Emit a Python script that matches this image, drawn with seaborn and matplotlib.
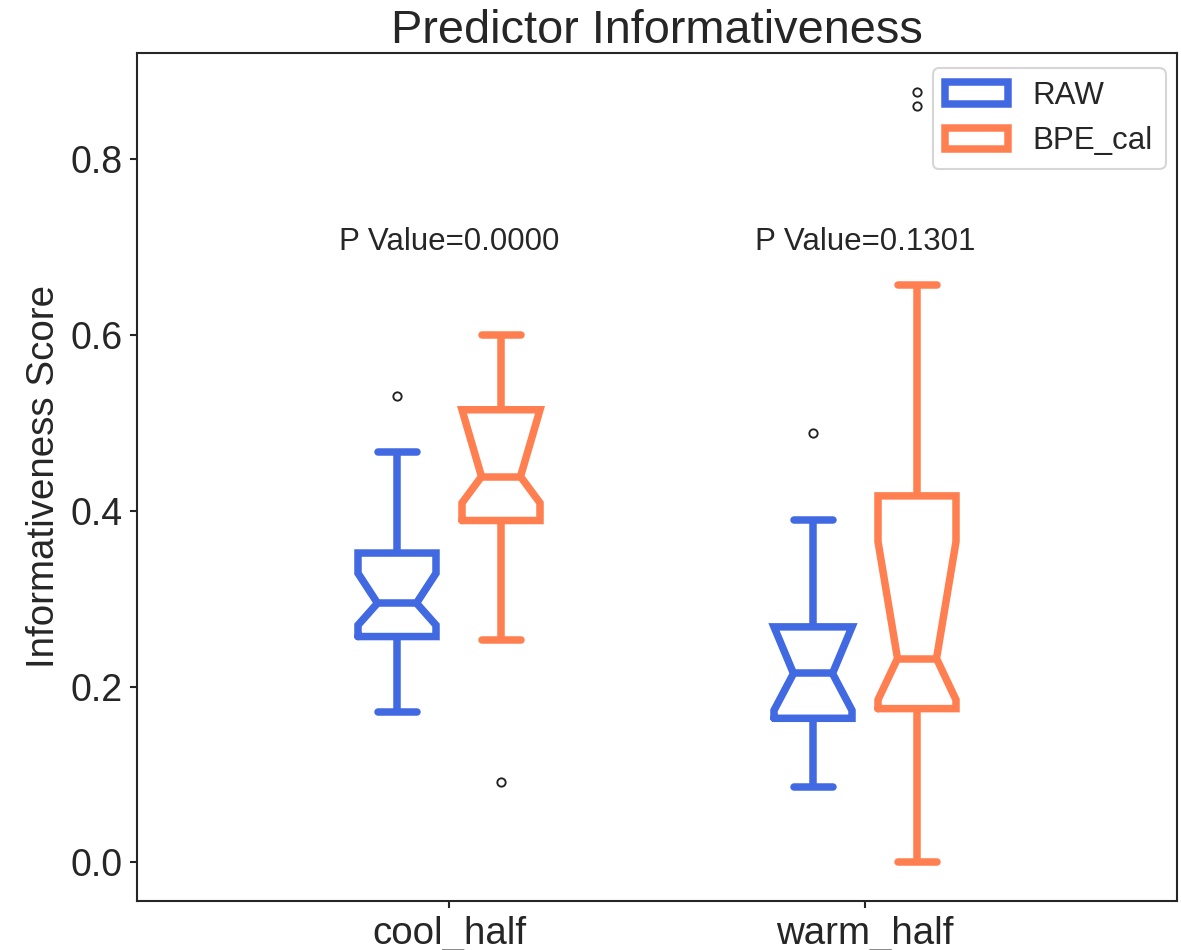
import numpy as np
import pandas as pd
import matplotlib
matplotlib.use("Agg")
import matplotlib.pyplot as plt
import seaborn as sns

# Categories and groups
seasons = ["cool_half", "warm_half"]
methods = ["RAW", "BPE_cal"]
p_values = [0.0000, 0.1301]

# Informativeness scores per season / method
cool_raw = [0.171, 0.198, 0.215, 0.232, 0.244, 0.251, 0.257, 0.270, 0.270,
            0.278, 0.284, 0.290, 0.295, 0.305, 0.314, 0.322, 0.329, 0.329,
            0.352, 0.368, 0.385, 0.402, 0.428, 0.467, 0.531]
cool_bpe = [0.091, 0.253, 0.301, 0.342, 0.366, 0.380, 0.389, 0.409, 0.409,
            0.418, 0.426, 0.433, 0.439, 0.458, 0.476, 0.497, 0.515, 0.515,
            0.515, 0.531, 0.548, 0.562, 0.577, 0.589, 0.600]
warm_raw = [0.086, 0.112, 0.131, 0.146, 0.155, 0.160, 0.164, 0.173, 0.173,
            0.186, 0.198, 0.207, 0.215, 0.229, 0.242, 0.255, 0.268, 0.268,
            0.268, 0.291, 0.317, 0.338, 0.362, 0.390, 0.489]
warm_bpe = [0.000, 0.048, 0.093, 0.124, 0.151, 0.166, 0.175, 0.185, 0.185,
            0.197, 0.209, 0.221, 0.232, 0.268, 0.301, 0.334, 0.365, 0.365,
            0.417, 0.463, 0.529, 0.596, 0.657, 0.861, 0.877]

groups = [("cool_half", "RAW", cool_raw), ("cool_half", "BPE_cal", cool_bpe),
          ("warm_half", "RAW", warm_raw), ("warm_half", "BPE_cal", warm_bpe)]
df = pd.DataFrame(
    [(s, m, v) for s, m, vals in groups for v in vals],
    columns=["season", "method", "score"],
)

palette = {"RAW": "royalblue", "BPE_cal": "coral"}

sns.set_theme(style="ticks")
plt.rcParams["font.family"] = ["Liberation Sans", "DejaVu Sans"]
plt.rcParams["lines.solid_joinstyle"] = "miter"
plt.rcParams["axes.linewidth"] = 1.0

fig, ax = plt.subplots(figsize=(1181 / 150, 950 / 150), dpi=150)
fig.subplots_adjust(left=137 / 1181, right=1177 / 1181,
                    bottom=1 - 901 / 950, top=1 - 53 / 950)

# bootstrapped notches (95% CI of the median)
np.random.seed(0)
sns.boxplot(
    data=df, x="season", y="score", hue="method",
    order=seasons, hue_order=methods, palette=palette, saturation=1,
    fill=False, width=0.5, gap=0.25, linewidth=3.6,
    notch=True, bootstrap=10000,
    flierprops=dict(marker="o", markeredgecolor="#222222",
                    markerfacecolor="none", markersize=4,
                    markeredgewidth=0.9),
    capprops=dict(solid_capstyle="round"),
    ax=ax,
)

for i, p in enumerate(p_values):
    ax.text(i, 0.697, f"P Value={p:.4f}", ha="center", va="baseline",
            fontsize=15)

ax.set_xlim(-0.75, 1.75)
ax.set_xlabel("")
ax.set_ylabel("Informativeness Score", fontsize=18.5)
ax.set_title("Predictor Informativeness", fontsize=22.5, pad=4.5)
ax.tick_params(axis="both", labelsize=18, length=3.5, width=1.0)
ax.tick_params(axis="x", labelsize=18.5)
sns.move_legend(ax, "upper right", bbox_to_anchor=(0.989, 0.982),
                title=None, fontsize=15, borderaxespad=0)

fig.savefig("out.png", dpi=150)
